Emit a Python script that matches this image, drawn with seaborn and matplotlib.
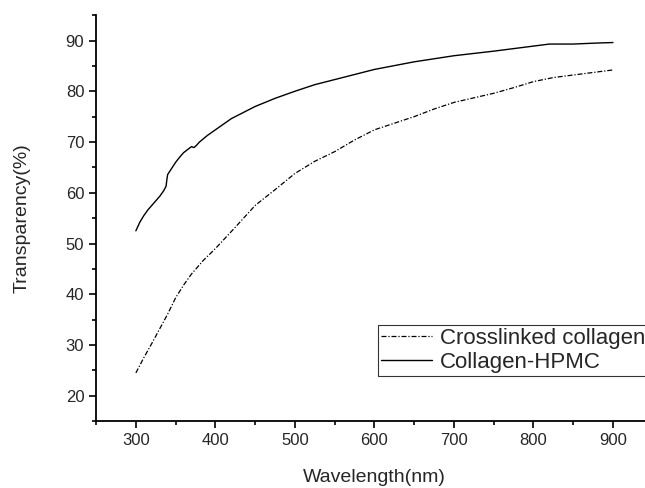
import numpy as np
import pandas as pd
import seaborn as sns
import matplotlib.pyplot as plt
from matplotlib.ticker import MultipleLocator

# Values
wl_hpmc = [300, 305, 310, 315, 320, 325, 330, 335, 338, 339, 340, 345, 350, 355, 360, 365, 370, 373, 376,
           380, 390, 400, 410, 420, 435, 450, 475, 500, 525, 550, 575, 600, 650, 700, 750, 800, 820, 850, 880, 900]
tr_hpmc = [52.5, 54.2, 55.5, 56.6, 57.5, 58.4, 59.3, 60.4, 61.3, 62.6, 63.6, 64.8, 66.0, 67.0, 67.9, 68.5, 69.1, 68.9, 69.3,
           70.0, 71.3, 72.4, 73.5, 74.6, 75.8, 77.0, 78.6, 80.0, 81.3, 82.3, 83.3, 84.3, 85.8, 87.0, 87.9, 88.9, 89.3, 89.3, 89.5, 89.6]

wl_cross = [300, 310, 320, 330, 340, 350, 360, 370, 385, 400, 425, 450, 475, 500, 525, 550,
            575, 600, 625, 650, 675, 700, 725, 750, 775, 800, 825, 850, 875, 900]
tr_cross = [24.5, 27.5, 30.3, 33.2, 36.1, 39.3, 41.8, 44.0, 46.7, 49.0, 53.2, 57.5, 60.6, 63.8, 66.2, 68.1,
            70.4, 72.4, 73.7, 75.0, 76.5, 77.8, 78.7, 79.6, 80.7, 81.9, 82.7, 83.2, 83.7, 84.2]

sns.set_style("ticks")
plt.rcParams['font.family'] = ['Liberation Sans', 'DejaVu Sans']

fig = plt.figure(figsize=(6.45, 4.88), dpi=100)
ax = fig.add_axes([0.149, 0.137, 0.863, 0.832])

df_cross = pd.DataFrame({"Wavelength": wl_cross, "Transparency": tr_cross})
df_hpmc = pd.DataFrame({"Wavelength": wl_hpmc, "Transparency": tr_hpmc})

sns.lineplot(data=df_cross, x="Wavelength", y="Transparency", ax=ax, color="black",
             linewidth=0.9, dashes=False, label="Crosslinked collagen")
ax.lines[-1].set_dashes((4, 1.5, 1, 1.5))
sns.lineplot(data=df_hpmc, x="Wavelength", y="Transparency", ax=ax, color="black",
             linewidth=1.0, label="Collagen-HPMC")

ax.set_xlim(250, 950)
ax.set_ylim(15, 95)
ax.xaxis.set_major_locator(MultipleLocator(100))
ax.xaxis.set_minor_locator(MultipleLocator(50))
ax.yaxis.set_major_locator(MultipleLocator(10))
ax.yaxis.set_minor_locator(MultipleLocator(5))
ax.set_xticks(range(300, 901, 100))
ax.tick_params(which="major", length=5, width=1.2, labelsize=12, direction="out", color="black")
ax.tick_params(which="minor", length=3, width=1.2, direction="out", color="black")

sns.despine(ax=ax)
for s in ["left", "bottom"]:
    ax.spines[s].set_linewidth(1.3)
    ax.spines[s].set_color("black")

ax.set_xlabel("Wavelength(nm)", fontsize=14, labelpad=15)
ax.set_ylabel("Transparency(%)", fontsize=14, labelpad=25)

leg = ax.legend(loc="upper left", bbox_to_anchor=(0.506, 0.238), fontsize=16, frameon=True,
                fancybox=False, edgecolor="black", handlelength=2.3, handletextpad=0.35,
                borderpad=0.15, labelspacing=0.12, borderaxespad=0)
leg.get_frame().set_linewidth(0.8)

fig.savefig("out.png", dpi=100)
